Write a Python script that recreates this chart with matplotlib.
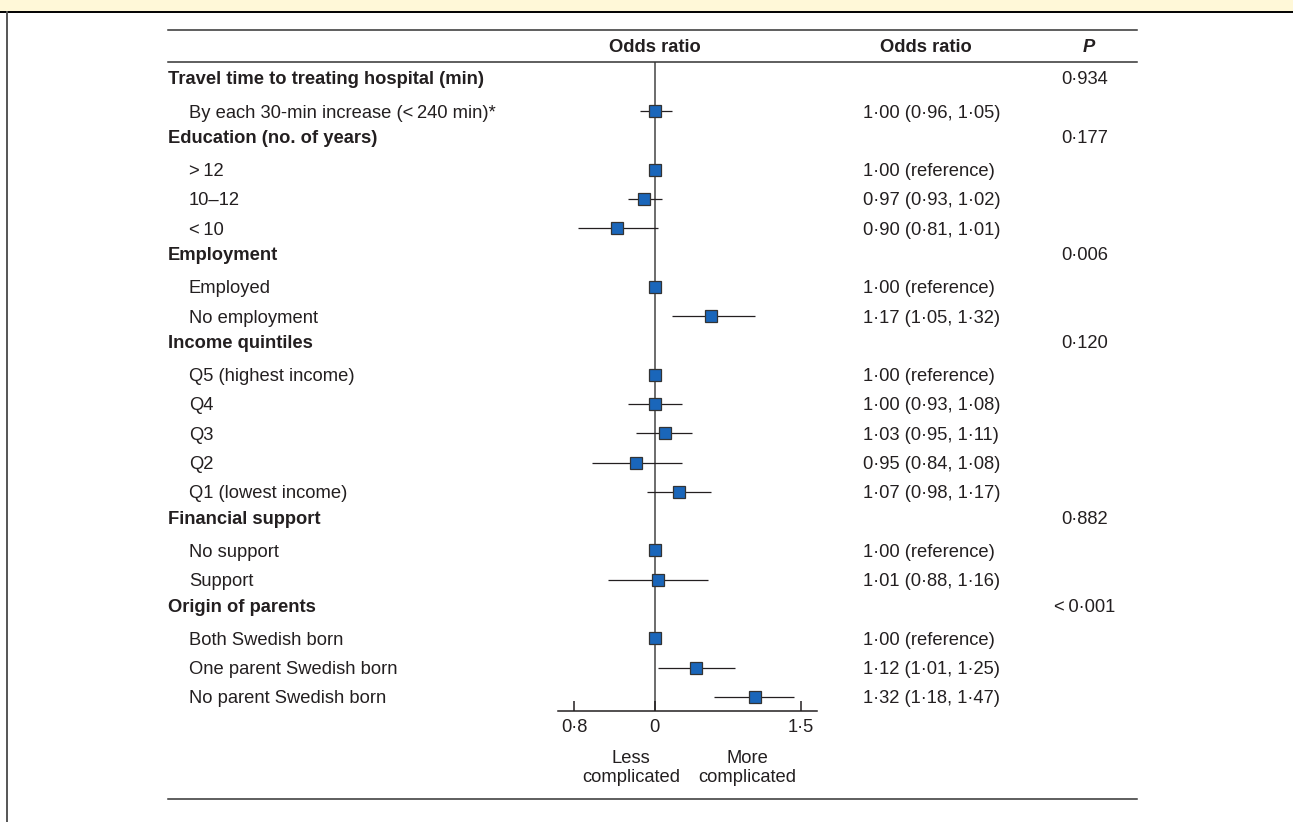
import matplotlib
matplotlib.use('Agg')
import numpy as np
import matplotlib.pyplot as plt
import matplotlib.transforms as mtransforms
from matplotlib.lines import Line2D
from matplotlib.patches import Rectangle
from matplotlib.ticker import NullLocator

plt.rcParams['font.family'] = ['Liberation Sans', 'DejaVu Sans']

# rows of the forest plot, top to bottom
labels = [
    'Travel time to treating hospital (min)',
    'By each 30-min increase (<\u2009240 min)*',
    'Education (no. of years)',
    '>\u200912',
    '10\u201312',
    '<\u200910',
    'Employment',
    'Employed',
    'No employment',
    'Income quintiles',
    'Q5 (highest income)',
    'Q4',
    'Q3',
    'Q2',
    'Q1 (lowest income)',
    'Financial support',
    'No support',
    'Support',
    'Origin of parents',
    'Both Swedish born',
    'One parent Swedish born',
    'No parent Swedish born',
]
is_header = [True, False, True, False, False, False, True, False, False, True,
             False, False, False, False, False, True, False, False, True,
             False, False, False]
odds = [None, 1.00, None, 1.00, 0.97, 0.90, None, 1.00, 1.17, None, 1.00,
        1.00, 1.03, 0.95, 1.07, None, 1.00, 1.01, None, 1.00, 1.12, 1.32]
lower = [None, 0.96, None, None, 0.93, 0.81, None, None, 1.05, None, None,
         0.93, 0.95, 0.84, 0.98, None, None, 0.88, None, None, 1.01, 1.18]
upper = [None, 1.05, None, None, 1.02, 1.01, None, None, 1.32, None, None,
         1.08, 1.11, 1.08, 1.17, None, None, 1.16, None, None, 1.25, 1.47]
p_values = ['0\u00b7934', '', '0\u00b7177', '', '', '', '0\u00b7006', '', '',
            '0\u00b7120', '', '', '', '', '', '0\u00b7882', '', '',
            '<\u20090\u00b7001', '', '', '']

ticks = [0.8, 1.0, 1.5]
tick_labels = ['0\u00b78', '0', '1\u00b75']

W, H = 1293, 822
TXT = '#231f20'
BLUE = '#1a66ba'
FS = 13.2


def fmt(v):
    return f'{v:.2f}'.replace('.', '\u00b7')


fig = plt.figure(figsize=(W / 100, H / 100), dpi=100)

# banner and frame
fig.add_artist(Rectangle((0, 1 - 12.5 / H), 1, 12.5 / H, transform=fig.transFigure,
                         facecolor='#fff8d8', edgecolor='none'))
fig.add_artist(Line2D([0, 1], [1 - 12.5 / H] * 2, color='black', lw=1.4))
fig.add_artist(Line2D([7.3 / W] * 2, [0, 1 - 12.5 / H], color='#555555', lw=1.4))

# table rules
for yy in (30, 61.7, 799):
    fig.add_artist(Line2D([168 / W, 1137 / W], [1 - yy / H] * 2, color='#333333', lw=1.1))

ax = fig.add_axes([558 / W, 1 - 711 / H, 259 / W, (711 - 61.7) / H])
ax.set_xscale('log')
ax.set_xlim(0.7653, 1.5679)
ax.set_ylim(21.48, -0.683)
ax.patch.set_visible(False)

rows = np.arange(len(labels))
ax.axvline(1.0, color='#444444', lw=1.1, zorder=1)
for i in rows:
    if odds[i] is None:
        continue
    if lower[i] is not None:
        ax.hlines(i, lower[i], upper[i], color=TXT, lw=0.9, zorder=2)
    ax.plot(odds[i], i, 's', ms=8, mfc=BLUE, mec='#333333', mew=0.9, zorder=3)

for s in ('top', 'left', 'right'):
    ax.spines[s].set_visible(False)
ax.spines['bottom'].set_color(TXT)
ax.spines['bottom'].set_linewidth(1.1)
ax.set_yticks([])
ax.set_xticks(ticks)
ax.set_xticklabels(tick_labels)
ax.xaxis.set_minor_locator(NullLocator())
ax.tick_params(axis='x', direction='in', length=7.2, width=1.1, pad=6,
               labelsize=FS, colors=TXT)

# text columns
trans = mtransforms.blended_transform_factory(fig.transFigure, ax.transData)
for i in rows:
    if is_header[i]:
        ax.text(168 / W, i - 0.13, labels[i], transform=trans, ha='left',
                va='center_baseline', fontsize=FS, fontweight='bold', color=TXT)
        ax.text(1085 / W, i - 0.13, p_values[i], transform=trans, ha='center',
                va='center_baseline', fontsize=FS, color=TXT)
    else:
        ax.text(189 / W, i, labels[i], transform=trans, ha='left',
                va='center_baseline', fontsize=FS, color=TXT)
        if lower[i] is None:
            s = f'{fmt(odds[i])} (reference)'
        else:
            s = f'{fmt(odds[i])} ({fmt(lower[i])}, {fmt(upper[i])})'
        ax.text(863 / W, i, s, transform=trans, ha='left',
                va='center_baseline', fontsize=FS, color=TXT)

# column headers
fig.text(655 / W, 1 - 46 / H, 'Odds ratio', ha='center', va='center_baseline',
         fontsize=FS, fontweight='bold', color=TXT)
fig.text(926 / W, 1 - 46 / H, 'Odds ratio', ha='center', va='center_baseline',
         fontsize=FS, fontweight='bold', color=TXT)
fig.text(1089 / W, 1 - 46 / H, 'P', ha='center', va='center_baseline',
         fontsize=FS, fontweight='bold', fontstyle='italic', color=TXT)

# direction labels under the axis
fig.text(631 / W, 1 - 768 / H, 'Less\ncomplicated', ha='center', va='center',
         multialignment='center', fontsize=FS, color=TXT, linespacing=1.2)
fig.text(747 / W, 1 - 768 / H, 'More\ncomplicated', ha='center', va='center',
         multialignment='center', fontsize=FS, color=TXT, linespacing=1.2)

fig.savefig('out.png', dpi=100)
